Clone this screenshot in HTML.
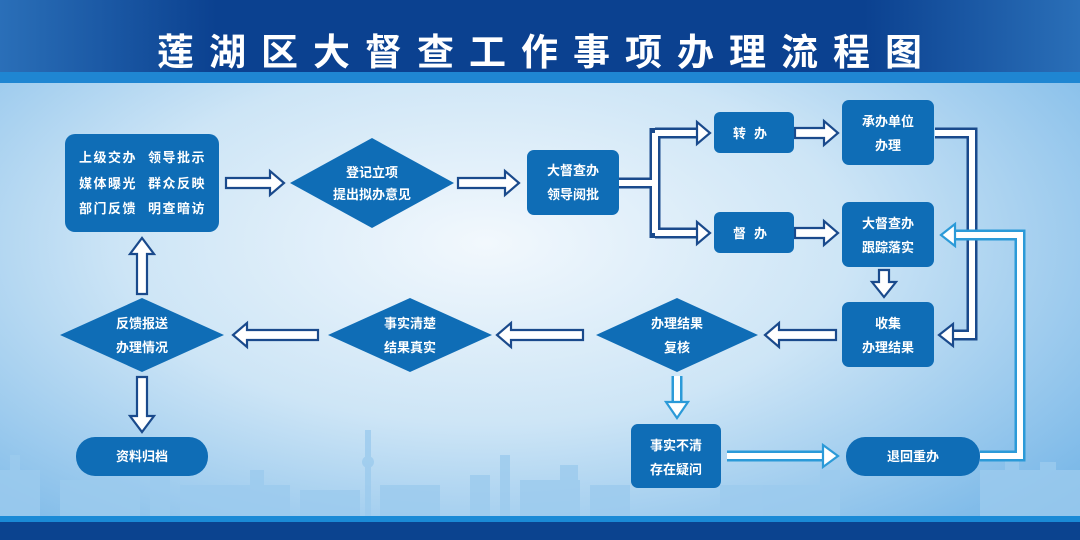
<!DOCTYPE html>
<html><head><meta charset="utf-8"><style>
html,body{margin:0;padding:0;width:1080px;height:540px;overflow:hidden}
text{font-family:"Liberation Sans","Noto Sans CJK SC",sans-serif;font-weight:bold;fill:#fff}
</style></head><body>
<svg width="1080" height="540" viewBox="0 0 1080 540" xmlns="http://www.w3.org/2000/svg">
<defs>
<radialGradient id="bg" cx="0.45" cy="0.45" r="0.75">
<stop offset="0" stop-color="#f2f8fd"/><stop offset="0.45" stop-color="#cde5f6"/><stop offset="1" stop-color="#6fb2e6"/>
</radialGradient>
<linearGradient id="hd" x1="0" y1="0" x2="1" y2="0">
<stop offset="0" stop-color="#2a6fb8"/><stop offset="0.2" stop-color="#0b4190"/><stop offset="0.8" stop-color="#0b4190"/><stop offset="1" stop-color="#2a6fb8"/>
</linearGradient>
</defs>
<rect width="1080" height="540" fill="url(#bg)"/>
<rect x="0" y="0" width="1080" height="72" fill="url(#hd)"/>
<rect x="0" y="72" width="1080" height="11" fill="#1f86d2"/>
<text x="547" y="65" text-anchor="middle" font-size="37" letter-spacing="15">莲湖区大督查工作事项办理流程图</text>
<g fill="#9ccbee" opacity="0.8">
<rect x="0" y="470" width="40" height="48"/><rect x="10" y="455" width="10" height="63"/>
<rect x="60" y="480" width="80" height="38"/><rect x="150" y="465" width="20" height="53"/>
<rect x="180" y="485" width="110" height="33"/><rect x="250" y="470" width="14" height="48"/>
<rect x="300" y="490" width="60" height="28"/><rect x="365" y="430" width="6" height="88"/>
<circle cx="368" cy="462" r="6"/><rect x="380" y="485" width="60" height="33"/>
<rect x="470" y="475" width="20" height="43"/><rect x="500" y="455" width="10" height="63"/>
<rect x="520" y="480" width="60" height="38"/><rect x="560" y="465" width="18" height="53"/>
<rect x="590" y="485" width="40" height="33"/><rect x="720" y="485" width="110" height="33"/>
<rect x="820" y="470" width="20" height="48"/><rect x="980" y="470" width="100" height="48"/>
<rect x="1005" y="455" width="14" height="63"/><rect x="1040" y="462" width="16" height="56"/>
</g>
<rect x="0" y="516" width="1080" height="6" fill="#1a8ad6"/>
<rect x="0" y="522" width="1080" height="18" fill="#0b438f"/>

<g fill="#fff" stroke="#1a4a8c" stroke-width="2.2" stroke-linejoin="miter">
<polygon points="226,178 270,178 270,171 284,183 270,195 270,188 226,188"/>
<polygon points="458,178 505,178 505,171 519,183 505,195 505,188 458,188"/>
<polygon points="795,128 824,128 824,121 838,133 824,145 824,138 795,138"/>
<polygon points="795,228 824,228 824,221 838,233 824,245 824,238 795,238"/>
<polygon points="836,330 779,330 779,323 765,335 779,347 779,340 836,340"/>
<polygon points="583,330 511,330 511,323 497,335 511,347 511,340 583,340"/>
<polygon points="318,330 247,330 247,323 233,335 247,347 247,340 318,340"/>
<polygon points="879,270 889,270 889,282 896,282 884,297 872,282 879,282"/>
<polygon points="137,294 147,294 147,254 154,254 142,238 130,254 137,254"/>
<polygon points="137,377 147,377 147,416 154,416 142,432 130,416 137,416"/>
</g>
<g fill="none" stroke-linejoin="miter">
<path d="M618,183 H655 M655,128 V238 M655,133 H700 M655,233 H700" stroke="#1a4a8c" stroke-width="11"/>
<path d="M618,183 H655 M655,133 V233 M655,133 H702 M655,233 H702" stroke="#fff" stroke-width="6"/>
<path d="M935,133 H972 V335 H950" stroke="#1a4a8c" stroke-width="11"/>
<path d="M935,133 H972 V335 H950" stroke="#fff" stroke-width="6"/>
<path d="M980,456 H1020 V235 H955" stroke="#2b9ad8" stroke-width="11"/>
<path d="M980,456 H1020 V235 H955" stroke="#fff" stroke-width="6"/>
<path d="M677,376 V404 M727,456 H825" stroke="#2b9ad8" stroke-width="11"/>
<path d="M677,376 V404 M727,456 H825" stroke="#fff" stroke-width="6"/>
</g>
<g fill="#fff" stroke="#1a4a8c" stroke-width="2.2">
<polygon points="697,122 710,133 697,144"/><polygon points="697,222 710,233 697,244"/>
<polygon points="953,324 939,335 953,346"/>
</g>
<g fill="#fff" stroke="#2b9ad8" stroke-width="2.2">
<polygon points="955,224 941,235 955,246"/>
<polygon points="666,402 688,402 677,418"/>
<polygon points="823,445 838,456 823,467"/>
</g>
<g fill="#0f6db6">
<rect x="65" y="134" width="154" height="98" rx="10"/>
<polygon points="290,183 372,138 454,183 372,228"/>
<rect x="527" y="150" width="92" height="65" rx="7"/>
<rect x="714" y="112" width="80" height="41" rx="6"/>
<rect x="714" y="212" width="80" height="41" rx="6"/>
<rect x="842" y="100" width="92" height="65" rx="7"/>
<rect x="842" y="202" width="92" height="65" rx="7"/>
<rect x="842" y="302" width="92" height="65" rx="7"/>
<polygon points="596,335 677,298 758,335 677,372"/>
<polygon points="328,335 410,298 492,335 410,372"/>
<polygon points="60,335 142,298 224,335 142,372"/>
<rect x="76" y="437" width="132" height="39" rx="19"/>
<rect x="631" y="424" width="90" height="64" rx="7"/>
<rect x="846" y="437" width="134" height="39" rx="19"/>
</g>
<g font-size="13" text-anchor="middle">
<text x="108" y="162" letter-spacing="1.5">上级交办</text><text x="177" y="162" letter-spacing="1.5">领导批示</text>
<text x="108" y="188" letter-spacing="1.5">媒体曝光</text><text x="177" y="188" letter-spacing="1.5">群众反映</text>
<text x="108" y="213" letter-spacing="1.5">部门反馈</text><text x="177" y="213" letter-spacing="1.5">明查暗访</text>
<text x="372" y="177">登记立项</text><text x="372" y="199">提出拟办意见</text>
<text x="573" y="175">大督查办</text><text x="573" y="199">领导阅批</text>
<text x="754" y="138" letter-spacing="8">转办</text><text x="754" y="238" letter-spacing="8">督办</text>
<text x="888" y="126">承办单位</text><text x="888" y="150">办理</text>
<text x="888" y="228">大督查办</text><text x="888" y="252">跟踪落实</text>
<text x="888" y="328">收集</text><text x="888" y="352">办理结果</text>
<text x="677" y="328">办理结果</text><text x="677" y="352">复核</text>
<text x="410" y="328">事实清楚</text><text x="410" y="352">结果真实</text>
<text x="142" y="328">反馈报送</text><text x="142" y="352">办理情况</text>
<text x="142" y="461">资料归档</text>
<text x="676" y="450">事实不清</text><text x="676" y="474">存在疑问</text>
<text x="913" y="461">退回重办</text>
</g>
</svg>
</body></html>
